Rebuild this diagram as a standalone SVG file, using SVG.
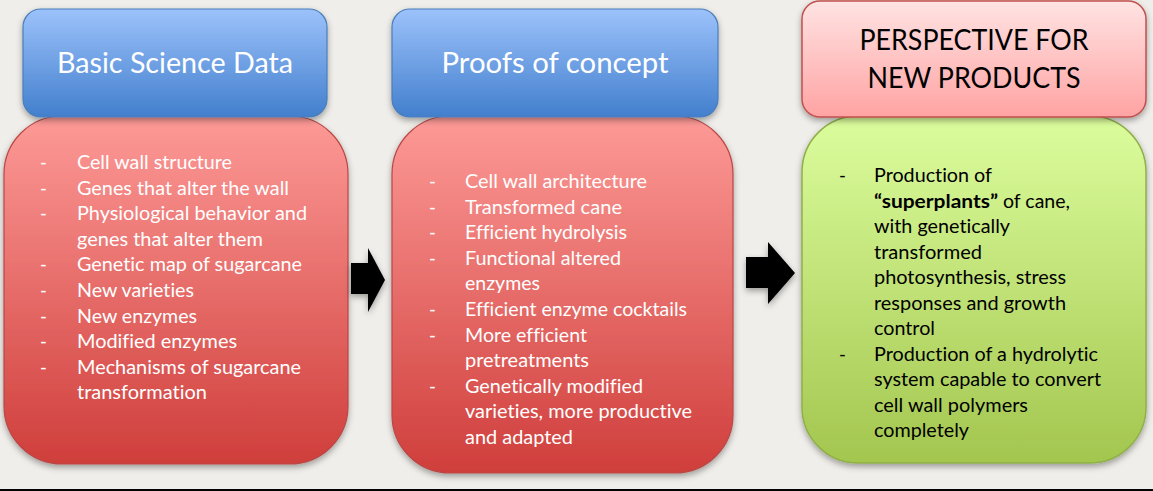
<svg xmlns="http://www.w3.org/2000/svg" width="1153" height="491" viewBox="0 0 1153 491">
  <defs>
    <linearGradient id="gBlue" x1="0" y1="0" x2="0" y2="1">
      <stop offset="0" stop-color="#9cc2fb"/>
      <stop offset="1" stop-color="#427fcd"/>
    </linearGradient>
    <linearGradient id="gRed" x1="0" y1="0" x2="0" y2="1">
      <stop offset="0" stop-color="#fd9a97"/>
      <stop offset="1" stop-color="#cf3e3b"/>
    </linearGradient>
    <linearGradient id="gPink" x1="0" y1="0" x2="0" y2="1">
      <stop offset="0" stop-color="#ffe3e3"/>
      <stop offset="1" stop-color="#ffa3a3"/>
    </linearGradient>
    <linearGradient id="gGreen" x1="0" y1="0" x2="0" y2="1">
      <stop offset="0" stop-color="#dcfd9d"/>
      <stop offset="1" stop-color="#a3c64f"/>
    </linearGradient>
    <filter id="shadow" x="-10%" y="-10%" width="120%" height="125%">
      <feDropShadow dx="0" dy="3" stdDeviation="3" flood-color="#000" flood-opacity="0.35"/>
    </filter>
  </defs>
  <style>
    .head-blue { fill: url(#gBlue); stroke: #4a7ebb; stroke-width: 1.2; filter: url(#shadow); }
    .body-red { fill: url(#gRed); stroke: #b94744; stroke-width: 1.2; filter: url(#shadow); }
    .head-pink { fill: url(#gPink); stroke: #c0504d; stroke-width: 1.5; filter: url(#shadow); }
    .body-green { fill: url(#gGreen); stroke: #8fb04a; stroke-width: 1.5; filter: url(#shadow); }
    text { font-family: Lato, "Open Sans", "Liberation Sans", sans-serif; font-variant-ligatures: none; }
    .title { font-size: 29px; fill: #ffffff; text-anchor: middle; }
    .title-dark { font-size: 28px; fill: #000000; text-anchor: middle; }
    .item { font-size: 18.5px; fill: #ffffff; }
    .item-dark { font-size: 18.5px; fill: #000000; }
    .b { font-weight: bold; }
  </style>

  <rect x="0" y="0" width="1153" height="491" fill="#efeeea"/>
  <line x1="0" y1="490" x2="1153" y2="490" stroke="#000" stroke-width="2"/>

  <!-- Column 1 -->
  <g id="basic-science-data">
    <rect class="body-red" x="4" y="116" width="344" height="348" rx="58" ry="58"/>
    <rect class="head-blue" x="23" y="9" width="304" height="108" rx="18" ry="18"/>
    <text class="title" x="175" y="73" textLength="236" lengthAdjust="spacingAndGlyphs">Basic Science Data</text>
    <g class="item">
      <text x="40" y="169">-</text>
      <text x="77" y="169" textLength="155" lengthAdjust="spacingAndGlyphs">Cell wall structure</text>
      <text x="40" y="194.6">-</text>
      <text x="77" y="194.6" textLength="212" lengthAdjust="spacingAndGlyphs">Genes that alter the wall</text>
      <text x="40" y="220.2">-</text>
      <text x="77" y="220.2" textLength="230" lengthAdjust="spacingAndGlyphs">Physiological behavior and</text>
      <text x="77" y="245.8" textLength="186" lengthAdjust="spacingAndGlyphs">genes that alter them</text>
      <text x="40" y="271.4">-</text>
      <text x="77" y="271.4" textLength="225" lengthAdjust="spacingAndGlyphs">Genetic map of sugarcane</text>
      <text x="40" y="297">-</text>
      <text x="77" y="297" textLength="117" lengthAdjust="spacingAndGlyphs">New varieties</text>
      <text x="40" y="322.6">-</text>
      <text x="77" y="322.6" textLength="120" lengthAdjust="spacingAndGlyphs">New enzymes</text>
      <text x="40" y="348.2">-</text>
      <text x="77" y="348.2" textLength="160" lengthAdjust="spacingAndGlyphs">Modified enzymes</text>
      <text x="40" y="373.8">-</text>
      <text x="77" y="373.8" textLength="224" lengthAdjust="spacingAndGlyphs">Mechanisms of sugarcane</text>
      <text x="77" y="399.4" textLength="130" lengthAdjust="spacingAndGlyphs">transformation</text>
    </g>
  </g>

  <!-- Column 2 -->
  <g id="proofs-of-concept">
    <rect class="body-red" x="392" y="116" width="341" height="357" rx="58" ry="58"/>
    <rect class="head-blue" x="392" y="9" width="326" height="108" rx="18" ry="18"/>
    <text class="title" x="555" y="73" textLength="227" lengthAdjust="spacingAndGlyphs">Proofs of concept</text>
    <g class="item">
      <text x="429" y="188">-</text>
      <text x="465" y="188" textLength="182" lengthAdjust="spacingAndGlyphs">Cell wall architecture</text>
      <text x="429" y="213.6">-</text>
      <text x="465" y="213.6" textLength="157" lengthAdjust="spacingAndGlyphs">Transformed cane</text>
      <text x="429" y="239.2">-</text>
      <text x="465" y="239.2" textLength="162" lengthAdjust="spacingAndGlyphs">Efficient hydrolysis</text>
      <text x="429" y="264.8">-</text>
      <text x="465" y="264.8" textLength="156" lengthAdjust="spacingAndGlyphs">Functional altered</text>
      <text x="465" y="290.4" textLength="75" lengthAdjust="spacingAndGlyphs">enzymes</text>
      <text x="429" y="316">-</text>
      <text x="465" y="316" textLength="222" lengthAdjust="spacingAndGlyphs">Efficient enzyme cocktails</text>
      <text x="429" y="341.6">-</text>
      <text x="465" y="341.6" textLength="122" lengthAdjust="spacingAndGlyphs">More efficient</text>
      <text x="465" y="367.2" textLength="124" lengthAdjust="spacingAndGlyphs">pretreatments</text>
      <text x="429" y="392.8">-</text>
      <text x="465" y="392.8" textLength="178" lengthAdjust="spacingAndGlyphs">Genetically modified</text>
      <text x="465" y="418.4" textLength="227" lengthAdjust="spacingAndGlyphs">varieties, more productive</text>
      <text x="465" y="444" textLength="108" lengthAdjust="spacingAndGlyphs">and adapted</text>
    </g>
  </g>

  <!-- Column 3 -->
  <g id="perspective-for-new-products">
    <rect class="body-green" x="802" y="116" width="344" height="347" rx="56" ry="56"/>
    <rect class="head-pink" x="802" y="1" width="344" height="116" rx="18" ry="18"/>
    <text class="title-dark" x="974" y="50" textLength="229" lengthAdjust="spacingAndGlyphs">PERSPECTIVE FOR</text>
    <text class="title-dark" x="974" y="88" textLength="213" lengthAdjust="spacingAndGlyphs">NEW PRODUCTS</text>
    <g class="item-dark">
      <text x="839" y="182">-</text>
      <text x="874" y="182" textLength="118" lengthAdjust="spacingAndGlyphs">Production of</text>
      <text y="207.5"><tspan class="b" x="874" textLength="124" lengthAdjust="spacingAndGlyphs">“superplants”</tspan><tspan x="1003" textLength="67" lengthAdjust="spacingAndGlyphs">of cane,</tspan></text>
      <text x="874" y="233" textLength="136" lengthAdjust="spacingAndGlyphs">with genetically</text>
      <text x="874" y="258.5" textLength="108" lengthAdjust="spacingAndGlyphs">transformed</text>
      <text x="874" y="284" textLength="192" lengthAdjust="spacingAndGlyphs">photosynthesis, stress</text>
      <text x="874" y="309.5" textLength="192" lengthAdjust="spacingAndGlyphs">responses and growth</text>
      <text x="874" y="335" textLength="61" lengthAdjust="spacingAndGlyphs">control</text>
      <text x="839" y="360.5">-</text>
      <text x="874" y="360.5" textLength="224" lengthAdjust="spacingAndGlyphs">Production of a hydrolytic</text>
      <text x="874" y="386" textLength="227" lengthAdjust="spacingAndGlyphs">system capable to convert</text>
      <text x="874" y="411.5" textLength="154" lengthAdjust="spacingAndGlyphs">cell wall polymers</text>
      <text x="874" y="437" textLength="95" lengthAdjust="spacingAndGlyphs">completely</text>
    </g>
  </g>

  <!-- Block arrows between the columns -->
  <g id="connectors" fill="#000" filter="url(#shadow)">
    <polygon points="351,263 368,263 368,248 385,280 368,312 368,294 351,294"/>
    <polygon points="746,257 768,257 768,242 795,273 768,304 768,288 746,288"/>
  </g>
</svg>
